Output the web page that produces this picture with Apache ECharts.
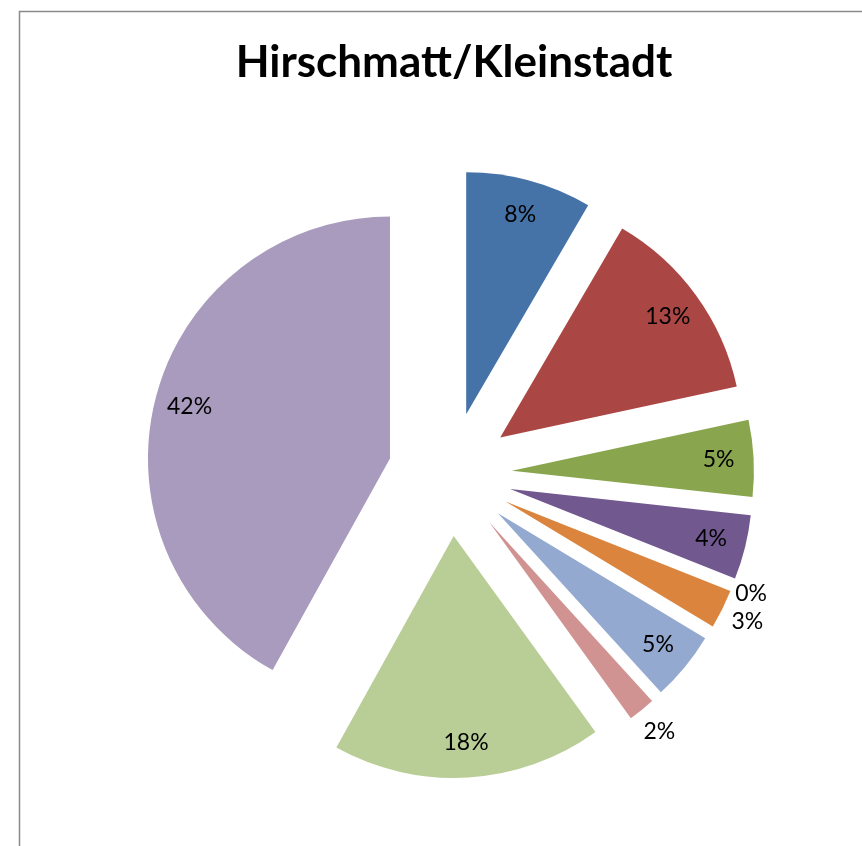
<!DOCTYPE html>
<html>
<head>
<meta charset="utf-8">
<script src="https://cdn.jsdelivr.net/npm/echarts@6/dist/echarts.min.js"></script>
<style>
html, body { margin: 0; padding: 0; background: #fff; }
#chart { width: 862px; height: 846px; }
</style>
</head>
<body>
<div id="chart"></div>
<script>
var title = 'Hirschmatt/Kleinstadt';
var categories = ['Segment 1', 'Segment 2', 'Segment 3', 'Segment 4', 'Segment 5',
    'Segment 6', 'Segment 7', 'Segment 8', 'Segment 9', 'Segment 10'];
// shares in percent
var values = [8.4, 13.2, 5.1, 4.3, 0, 2.6, 4.6, 1.8, 18.0, 41.9];
var colors = ['#4572A7', '#AA4643', '#89A54E', '#71588F', '#4198AF',
    '#DB843D', '#93A9CF', '#D19392', '#B9CD96', '#A99BBD'];

var center = [450, 474];
var explode = 62;
var labelFont = {color: '#000', fontSize: 23, fontFamily: 'Lato'};

function pieBase(radius) {
    return {
        type: 'pie',
        center: center,
        radius: radius,
        startAngle: 90,
        clockwise: true,
        selectedMode: 'multiple',
        selectedOffset: explode,
        avoidLabelOverlap: false,
        animation: false,
        silent: true,
        labelLine: {show: false}
    };
}

var slices = pieBase([0, 242]);
slices.label = {show: false};
slices.data = values.map(function(v, i) {
    return {name: categories[i], value: v, selected: true, itemStyle: {color: colors[i]}};
});

// transparent rings that only carry the percentage labels
function labelRing(radius, pick) {
    var s = pieBase(radius);
    s.itemStyle = {color: 'rgba(0,0,0,0)'};
    s.label = Object.assign({
        position: 'inside',
        formatter: function(p) { return Math.round(p.percent) + '%'; }
    }, labelFont);
    s.data = values.map(function(v, i) {
        return {name: categories[i], value: v, selected: true, label: {show: pick(v)}};
    });
    return s;
}

// big slices: label inside near the rim; small ones sit just outside
var inner = labelRing([166, 242], function(v) { return v >= 4; });
var outer = labelRing([242, 292], function(v) { return v > 0 && v < 4; });
var zero = labelRing([234, 284], function(v) { return v === 0; });

var chart = echarts.init(document.getElementById('chart'));
chart.setOption({
    backgroundColor: '#fff',
    title: {
        text: title,
        left: 449,
        textAlign: 'center',
        top: 36,
        textStyle: {fontFamily: 'Lato', fontWeight: 'bold', fontSize: 44, color: '#000'}
    },
    graphic: [{
        type: 'rect',
        shape: {x: 19.5, y: 11.5, width: 900, height: 900},
        style: {fill: 'none', stroke: '#8a8a8a', lineWidth: 1.5},
        silent: true
    }],
    series: [slices, inner, outer, zero]
});
</script>
</body>
</html>
